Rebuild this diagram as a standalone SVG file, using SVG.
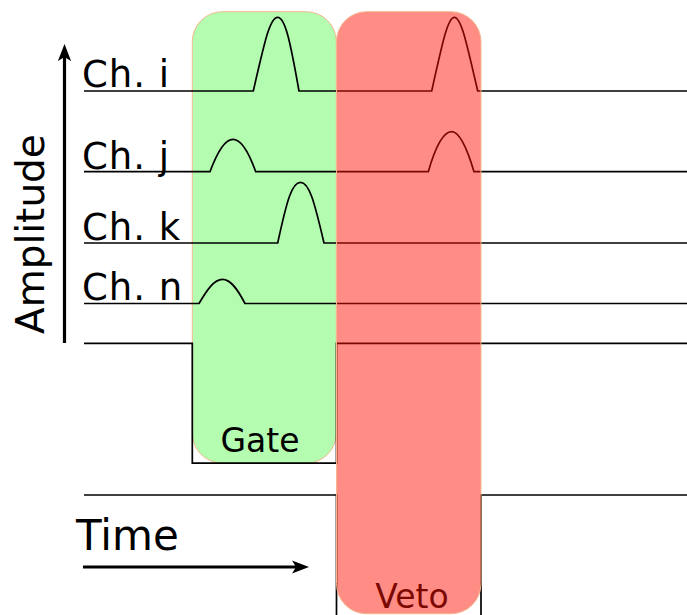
<svg xmlns="http://www.w3.org/2000/svg" width="687" height="615" viewBox="0 0 687 615">
<defs>
<style>
.lbl{font-family:"DejaVu Sans","Liberation Sans",sans-serif;fill:#000}
.ch{font-size:37px;letter-spacing:1px}
.sig{fill:none;stroke:#000;stroke-width:1.7}
.arr{fill:none;stroke:#000;stroke-width:3.2}
.box{stroke:#f4b88f;stroke-width:1}
</style>
<marker id="ah" viewBox="0 0 13 10" refX="3" refY="5" markerWidth="5.3" markerHeight="4.1" markerUnits="strokeWidth" orient="auto">
<path d="M0,0 L13,5 L0,10 L3,5 Z" fill="#000"/>
</marker>
</defs>
<rect width="687" height="615" fill="#fff"/>

<g id="gate-window">
<rect class="box" x="192.3" y="11.7" width="144" height="451.5" rx="30" fill="#b3fcb0"/>
<text class="lbl" x="260" y="452" font-size="33" text-anchor="middle">Gate</text>
</g>

<g id="veto-label">
<text class="lbl" x="412" y="608" font-size="33" text-anchor="middle">Veto</text>
</g>

<g id="labels">
<text class="lbl ch" x="82" y="87">Ch. i</text>
<text class="lbl ch" x="82" y="169">Ch. j</text>
<text class="lbl ch" x="82" y="240">Ch. k</text>
<text class="lbl ch" x="82" y="300">Ch. n</text>
<text class="lbl" font-size="39" transform="translate(44,334) rotate(-90)">Amplitude</text>
<text class="lbl" x="76" y="550" font-size="42">Time</text>
</g>

<g id="connectors">
<path id="ch-i" class="sig" d="M84,91 H253.3 C265,40 270,17.3 277.7,17.3 C285,17.3 290,40 299,91 H431.7 C443,40 448,17.3 454.3,17.3 C461,17.3 466,40 477.7,91 H687"/>
<path id="ch-j" class="sig" d="M84,171.7 H210 C218,150 225,139.3 233,139.3 C241,139.3 248,150 255.7,171.7 H428.3 C436,145 444,131.7 451.7,131.7 C459,131.7 466,145 474,171.7 H687"/>
<path id="ch-k" class="sig" d="M84,243 H277.7 C287,200 292,182.3 300.5,182.3 C309,182.3 314,200 324,243 H687"/>
<path id="ch-n" class="sig" d="M84,303.5 H199 C207,290 214,279.3 222.5,279.3 C231,279.3 238,290 245,303.5 H687"/>
<path id="gate-signal" class="sig" d="M84,343.3 H192.3 V463.2 H336.5 V343.3 H687"/>
<path id="veto-signal" class="sig" d="M84,495 H336.5 V620 H481 V495 H687"/>
<path id="amp-axis" class="arr" d="M64.5,343 V57" marker-end="url(#ah)"/>
<path id="time-axis" class="arr" d="M83,567 H296" marker-end="url(#ah)"/>
</g>

<g id="veto-window">
<rect class="box" x="336.5" y="11.7" width="144.5" height="602" rx="30" fill="#ff1100" fill-opacity="0.48"/>
</g>
</svg>
